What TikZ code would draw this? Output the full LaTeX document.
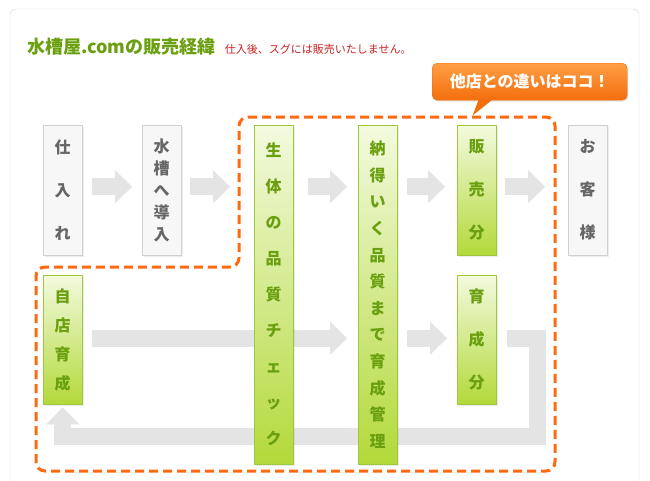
\documentclass[tikz,border=0pt]{standalone}
\usepackage{xcolor}
\usepackage{fontspec}
\newfontfamily\jp{Noto Sans CJK JP}
\usepackage{tikz}
\usetikzlibrary{arrows.meta, positioning, shadows, backgrounds}

\definecolor{panelline}{HTML}{D4D4D4}
\definecolor{boxfill}{HTML}{F7F7F7}
\definecolor{boxline}{HTML}{D0D0D0}
\definecolor{boxtext}{HTML}{666666}
\definecolor{leaf}{HTML}{6A9F10}
\definecolor{leaftop}{HTML}{F3FADF}
\definecolor{leafbot}{HTML}{B3D93A}
\definecolor{leafline}{HTML}{9FC83C}
\definecolor{flowgrey}{HTML}{E4E4E4}
\definecolor{zoneorange}{HTML}{FF6A10}
\definecolor{tiptop}{HTML}{FF9E45}
\definecolor{tipbot}{HTML}{F26E0C}
\definecolor{subred}{HTML}{CC2222}

\begin{document}
\begin{tikzpicture}[
    x=1pt, y=-1pt,
    greybox/.style={rectangle, draw=boxline, fill=boxfill, minimum width=39pt, inner sep=0pt,
        anchor=north west, align=center, text=boxtext,
        drop shadow={shadow xshift=1.5pt, shadow yshift=-1.5pt, opacity=0.15}},
    greenbox/.style={rectangle, draw=leafline, top color=leaftop, bottom color=leafbot,
        minimum width=39pt, inner sep=0pt, anchor=north west, align=center, text=leaf,
        drop shadow={shadow xshift=1.5pt, shadow yshift=-1.5pt, opacity=0.15}},
    pitch/.style={font=\jp\bfseries\fontsize{16pt}{#1}\selectfont},
    flow/.style={line width=17pt, draw=flowgrey, line join=miter,
        -{Triangle[length=17pt, width=33pt, line width=0.1pt, fill=flowgrey]}},
    zone/.style={draw=zoneorange, line width=3pt, dash pattern=on 9pt off 5pt, rounded corners=9pt},
]
    \useasboundingbox (0,0) rectangle (650,480);

    % Heading
    \node[anchor=west, inner sep=0pt, text=leaf, font=\jp\bfseries\fontsize{18pt}{20pt}\selectfont] (title) at (27,47) {水槽屋.comの販売経緯};
    \node[right=9pt of title.base east, anchor=base west, inner sep=0pt, text=subred,
        font=\jp\fontsize{11pt}{12pt}\selectfont] (note) {仕入後、スグには販売いたしません。};

    % Top row
    \node[greybox, minimum height=130pt, pitch=43pt] (ire) at (43,125) {仕\\入\\れ};
    \node[greybox, minimum height=130pt, pitch=22pt] (suiso) at (142,125) {水\\槽\\へ\\導\\入};
    \node[greenbox, minimum height=339pt, pitch=36pt] (check) at (254,125) {生\\体\\の\\品\\質\\チ\\ェ\\ッ\\ク};
    \node[greenbox, minimum height=339pt, pitch=26.6pt] (kanri) at (358,125) {納\\得\\い\\く\\品\\質\\ま\\で\\育\\成\\管\\理};
    \node[greenbox, minimum height=130pt, pitch=43pt] (hanbai) at (457,125) {販\\売\\分};
    \node[greybox, minimum height=130pt, pitch=43pt] (kyaku) at (568,125) {お\\客\\様};

    % Bottom row
    \node[greenbox, minimum height=129pt, pitch=29pt] (jiten) at (43,275) {自\\店\\育\\成};
    \node[greenbox, minimum height=129pt, pitch=43pt] (ikusei) at (457,275) {育\\成\\分};

    % Callout
    \node[rectangle, rounded corners=5pt, draw=tipbot, top color=tiptop, bottom color=tipbot,
        minimum width=195pt, minimum height=37pt, anchor=north west, text=white,
        font=\jp\bfseries\fontsize{16pt}{18pt}\selectfont,
        drop shadow={shadow xshift=1pt, shadow yshift=-1.5pt, opacity=0.2}] (tip) at (432,63) {他店との違いはココ！};
    \fill[tipbot] ([xshift=-51pt, yshift=1pt]tip.south) -- ([xshift=-57pt, yshift=-15pt]tip.south)
        -- ([xshift=-37pt, yshift=1pt]tip.south) -- cycle;

    % Region of the shop's own process
    \draw[zone] (239,117) -- (555,117) -- (555,471) -- (36,471) -- (36,267) -- (239,267) -- cycle;

    \begin{scope}[on background layer]
        \fill[white] (0,0) rectangle (650,480);
        \draw[panelline, rounded corners=6pt] (10,495) -- (10,9) -- (639,9) -- (639,495);
        \coordinate (upper) at ([yshift=3.5pt]ire.east);
        \coordinate (lower) at ([yshift=1.5pt]jiten.east);
        \coordinate (turn) at (537,436);

        \draw[flow] ([xshift=10pt]ire.east |- upper) -- ([xshift=-10pt]suiso.west |- upper);
        \draw[flow] ([xshift=9pt]suiso.east |- upper) -- ([xshift=-24pt]check.west |- upper);
        \draw[flow] ([xshift=15pt]check.east |- upper) -- ([xshift=-11pt]kanri.west |- upper);
        \draw[flow] ([xshift=10pt]kanri.east |- upper) -- ([xshift=-12pt]hanbai.west |- upper);
        \draw[flow] ([xshift=9pt]hanbai.east |- upper) -- ([xshift=-23pt]kyaku.west |- upper);

        \draw[flow] ([xshift=10pt]jiten.east |- lower) -- ([xshift=-11pt]kanri.west |- lower);
        \draw[flow] ([xshift=10pt]kanri.east |- lower) -- ([xshift=-10pt]ikusei.west |- lower);
        \draw[flow] ([xshift=11pt]ikusei.east |- lower) -| (turn) -| ([yshift=-3pt]jiten.south);
    \end{scope}
\end{tikzpicture}
\end{document}
